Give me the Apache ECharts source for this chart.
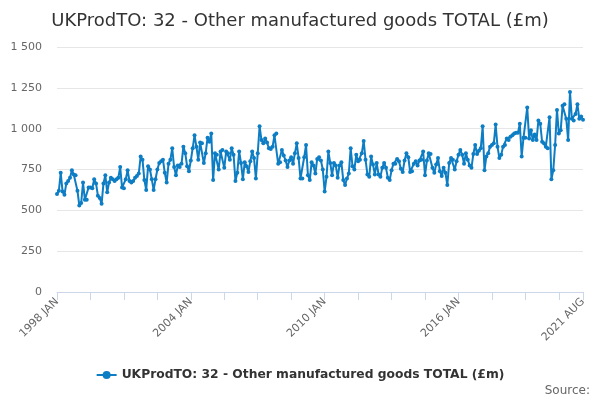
<!DOCTYPE html>
<html>
<head>
<meta charset="utf-8">
<title>UKProdTO: 32</title>
<script src="https://cdn.jsdelivr.net/npm/echarts@6/dist/echarts.min.js"></script>
<style>
    html, body { margin: 0; padding: 0; background: #fff; }
    #chart { width: 600px; height: 400px; }
</style>
</head>
<body>
<div id="chart"></div>
<script>
    var titleText = 'UKProdTO: 32 - Other manufactured goods TOTAL (£m)';
    var seriesName = 'UKProdTO: 32 - Other manufactured goods TOTAL (£m)';
    var startYear = 1998;
    var monthNames = ['JAN', 'FEB', 'MAR', 'APR', 'MAY', 'JUN', 'JUL', 'AUG', 'SEP', 'OCT', 'NOV', 'DEC'];
    var yTicks = [0, 250, 500, 750, 1000, 1250, 1500];

    // monthly values, one row per year (1998 JAN .. 2021 AUG)
    var values = [
        600, 620, 730, 615, 595, 665, 680, 700, 745, 720, 715, 620,
        530, 545, 670, 565, 565, 640, 640, 635, 690, 665, 590, 575,
        540, 665, 715, 610, 670, 700, 690, 680, 690, 700, 765, 640,
        635, 690, 745, 680, 670, 680, 700, 710, 725, 830, 810, 685,
        625, 770, 750, 690, 625, 690, 750, 790, 800, 810, 730, 670,
        785, 810, 880, 765, 715, 775, 765, 785, 890, 850, 770, 740,
        805, 880, 960, 890, 810, 915, 910, 790, 850, 945, 920, 970,
        685, 850, 840, 750, 860, 870, 760, 860, 850, 810, 880, 840,
        680, 730, 860, 790, 690, 795, 770, 735, 800, 860, 820, 695,
        850, 1015, 930, 910, 940, 915, 880, 875, 890, 960, 970, 785,
        795, 870, 835, 805, 765, 805, 825, 785, 850, 910, 820, 695,
        695, 825, 900, 715, 685, 795, 775, 725, 815, 825, 805, 750,
        615, 705, 860, 790, 715, 790, 775, 700, 775, 795, 685, 655,
        695, 725, 880, 770, 750, 840, 800, 810, 850, 925, 810, 720,
        705, 830, 780, 720, 790, 720, 705, 760, 790, 760, 700, 685,
        745, 785, 785, 815, 800, 755, 735, 805, 850, 825, 735, 740,
        785, 800, 775, 805, 810, 860, 715, 805, 850, 845, 760, 730,
        780, 820, 740, 710, 760, 730, 655, 790, 820, 810, 750, 800,
        840, 870, 840, 785, 850, 810, 775, 760, 845, 900, 845, 865,
        880, 1015, 745, 830, 850, 890, 900, 910, 1025, 890, 820, 840,
        890, 900, 940, 930, 950, 960, 970, 975, 975, 1030, 830, 945,
        945, 1130, 940, 990, 930, 965, 930, 1050, 1030, 920, 910, 890,
        880, 1070, 690, 745, 900, 1115, 970, 990, 1140, 1150, 1060, 930,
        1225, 1060, 1050, 1090, 1150, 1060, 1075, 1055
    ];

    var categories = [];
    for (var i = 0; i < values.length; i++) {
        categories.push((startYear + Math.floor(i / 12)) + ' ' + monthNames[i % 12]);
    }
    var last = values.length - 1;

    function fmtThousands(v) {
        return String(v).replace(/\B(?=(\d{3})+(?!\d))/g, ' ');
    }

    var myChart = echarts.init(document.getElementById('chart'), null, { renderer: 'canvas' });

    var option = {
        animation: false,
        textStyle: { fontFamily: 'DejaVu Sans' },
        title: {
            text: titleText,
            left: 'center',
            top: 7,
            textStyle: { fontSize: 18, fontWeight: 'normal', color: '#333333', fontFamily: 'DejaVu Sans' }
        },
        grid: { left: 57, right: 17, top: 47, bottom: 108 },
        legend: {
            bottom: 14,
            left: 'center',
            itemWidth: 20,
            itemHeight: 10,
            itemGap: 6,
            textStyle: { fontSize: 12.3, fontWeight: 'bold', color: '#333333', fontFamily: 'DejaVu Sans' },
            data: [seriesName]
        },
        graphic: [{
            type: 'text',
            right: 10,
            bottom: 3,
            style: { text: 'Source:', fill: '#666666', fontSize: 12, fontFamily: 'DejaVu Sans' }
        }],
        xAxis: {
            type: 'category',
            data: categories,
            boundaryGap: false,
            axisLine: { lineStyle: { color: '#ccd6eb', width: 1 } },
            axisTick: {
                length: 8,
                lineStyle: { color: '#ccd6eb' },
                interval: function (index) { return index % 18 === 0 || index === last; }
            },
            axisLabel: {
                rotate: 45,
                color: '#666666',
                fontSize: 11,
                margin: 8,
                interval: function (index) { return index % 72 === 0 || index === last; }
            },
            splitLine: { show: false }
        },
        yAxis: {
            type: 'value',
            min: yTicks[0],
            max: yTicks[yTicks.length - 1],
            interval: yTicks[1] - yTicks[0],
            axisLine: { show: false },
            axisTick: { show: false },
            axisLabel: {
                color: '#666666',
                fontSize: 11,
                margin: 15,
                formatter: function (v) { return fmtThousands(v); }
            },
            splitLine: { lineStyle: { color: '#e6e6e6' } }
        },
        series: [{
            name: seriesName,
            type: 'line',
            data: values,
            symbol: 'circle',
            symbolSize: 4,
            showAllSymbol: true,
            lineStyle: { color: '#0d7dc4', width: 2 },
            itemStyle: { color: '#0d7dc4' }
        }]
    };

    myChart.setOption(option, true);
</script>
</body>
</html>
